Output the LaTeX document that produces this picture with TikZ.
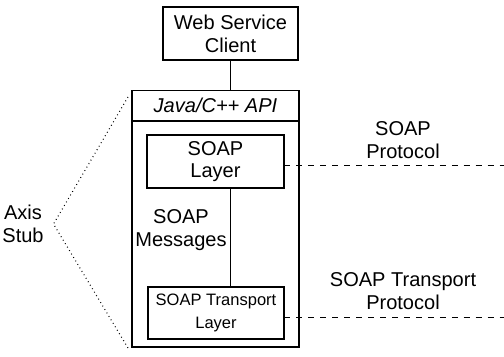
\documentclass[tikz,border=0pt]{standalone}
\usepackage{fontspec}
\setmainfont{Liberation Sans}
\usepackage{tikz}
\usetikzlibrary{positioning}
\tikzset{blk/.style={rectangle,draw,line width=0.6pt,align=center,inner sep=0pt},
  lbl/.style={align=center,font=\fontsize{11.4}{13}\selectfont}}

\begin{document}
\begin{tikzpicture}[x=0.02cm,y=-0.02cm,line width=0.6pt]
    \useasboundingbox (0,0) rectangle (504,356);
    \node[blk,lbl,minimum width=2.7cm,minimum height=1.06cm] (client) at (230.5,33.5) {Web Service\\Client};
    \node[blk,minimum width=3.34cm,minimum height=5.14cm] (stub) at (215.5,218.5) {};
    \node[lbl,font=\fontsize{11.4}{13}\selectfont\itshape] (api) at (215.5,105.5) {Java/C++ API};
    \node[blk,lbl,minimum width=2.74cm,minimum height=1.06cm] (soap) at (215.5,161.5) {SOAP\\Layer};
    \node[blk,align=center,font=\fontsize{9.4}{13.5}\selectfont,minimum width=2.72cm,minimum height=1.04cm] (trans) at (216,313) {SOAP Transport\\Layer};
    \node[lbl] (msg) at (181,230) {SOAP\\Messages};
    \node[lbl] (proto) at (403,140) {SOAP\\Protocol};
    \node[lbl] (tproto) at (403,291) {SOAP Transport\\Protocol};
    \node[lbl,anchor=east] (axis) at (50,224) {Axis\\Stub};

    \coordinate (soapend) at (504,165);
    \coordinate (transend) at (504,317);
    \coordinate (stubtop) at (128,97);
    \coordinate (stubbot) at (128,348);

    % header bar of the stub box
    \draw (stub.west |- 0,121) -- (stub.east |- 0,121);
    \draw (client.south) -- (client.south |- stub.north);
    \draw (soap.south -| client) -- (trans.north -| client);
    \draw [dash pattern=on 3.4pt off 3.4pt,line width=0.5pt] (soapend -| soap.east) -- (soapend);
    \draw [dash pattern=on 3.4pt off 3.4pt,line width=0.5pt] (transend -| trans.east) -- (transend);
    \draw [dash pattern=on 0.5pt off 1.8pt,line width=0.6pt] (stubtop) -- ([xshift=2pt]axis.east) -- (stubbot);
\end{tikzpicture}
\end{document}
